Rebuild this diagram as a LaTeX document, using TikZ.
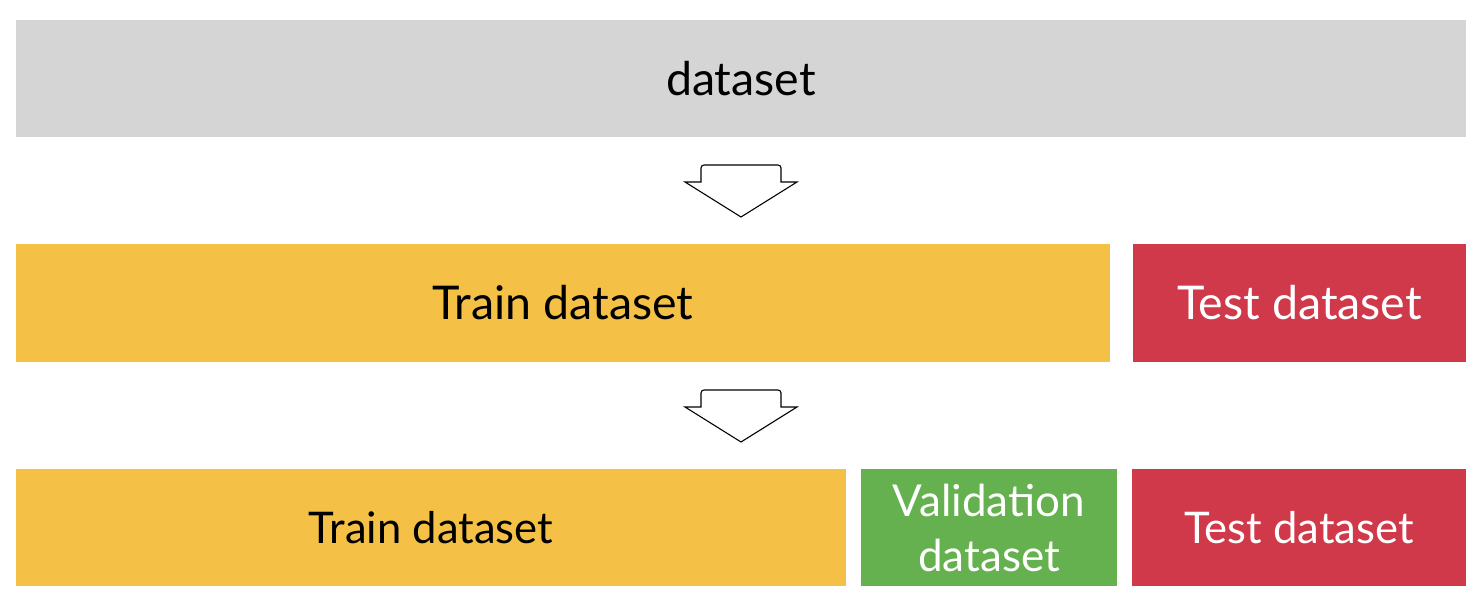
\documentclass[tikz,border=0pt]{standalone}
\usepackage{fontspec}
\setmainfont{Lato}
\definecolor{boxgray}{HTML}{D5D5D5}
\definecolor{boxyellow}{HTML}{F4C046}
\definecolor{boxred}{HTML}{D0394A}
\definecolor{boxgreen}{HTML}{65B14F}
\begin{document}
\begin{tikzpicture}[x=1pt,y=-1pt,
  blk/.style={anchor=north west,inner sep=0pt,outer sep=0pt,font=\fontsize{46.5}{52}\selectfont,align=center},
  small/.style={font=\fontsize{43.6}{55}\selectfont},
  downarrow/.style={draw=black,line width=1.1pt,fill=white,rounded corners=3pt}]
\useasboundingbox (0,0) rectangle (1482,604);
% row 1
\node[blk,fill=boxgray,minimum width=1450pt,minimum height=117pt] (ds) at (16,20) {dataset};
% row 2
\node[blk,fill=boxyellow,minimum width=1094pt,minimum height=118pt] (tr2) at (16,244) {Train dataset};
\node[blk,fill=boxred,text=white,minimum width=333pt,minimum height=118pt] (te2) at (1133,244) {Test dataset};
% row 3
\node[blk,small,fill=boxyellow,minimum width=830pt,minimum height=117pt] (tr3) at (16,469) {Train dataset};
\node[blk,small,fill=boxgreen,text=white,minimum width=256pt,minimum height=117pt,font=\fontsize{44}{55}\selectfont] (va3) at (861,469) {Validation\\dataset};
\node[blk,small,fill=boxred,text=white,minimum width=334pt,minimum height=117pt] (te3) at (1132,469) {Test dataset};
% block arrows
\foreach \t/\n in {165/a1,390/a2}{
  \coordinate (\n) at (741,\t);
  \draw[downarrow] (\n) ++(-40,17) -- ++(0,-17) -- ++(80,0) [sharp corners] -- ++(0,17) -- ++(16,0) -- ++(-56,35) -- ++(-56,-35) -- cycle;
}
\end{tikzpicture}
\end{document}
